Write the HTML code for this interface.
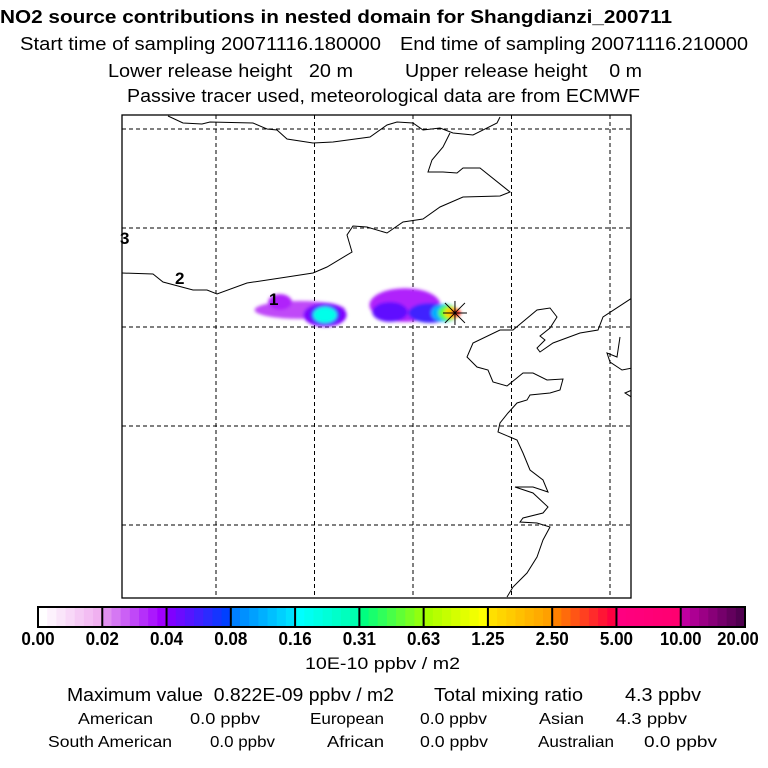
<!DOCTYPE html>
<html><head><meta charset="utf-8"><style>
html,body{margin:0;padding:0;background:#fff}
svg{display:block;font-family:"Liberation Sans",sans-serif}
</style></head><body>
<svg id="chart" width="768" height="768" viewBox="0 0 768 768" xmlns="http://www.w3.org/2000/svg">
<defs>
<filter id="blur" x="-50%" y="-50%" width="200%" height="200%"><feGaussianBlur stdDeviation="1.6"/></filter>
<clipPath id="mapclip"><rect x="122" y="115" width="509" height="483"/></clipPath>
</defs>
<g>
<text x="0" y="23" font-size="18" font-weight="bold" textLength="672" lengthAdjust="spacingAndGlyphs">NO2 source contributions in nested domain for Shangdianzi_200711</text>
<text x="20" y="50" font-size="18" textLength="361" lengthAdjust="spacingAndGlyphs">Start time of sampling 20071116.180000</text>
<text x="400" y="50" font-size="18" textLength="348" lengthAdjust="spacingAndGlyphs">End time of sampling 20071116.210000</text>
<text x="108" y="77" font-size="18" textLength="245" lengthAdjust="spacingAndGlyphs" xml:space="preserve">Lower release height   20 m</text>
<text x="405" y="77" font-size="18" textLength="237" lengthAdjust="spacingAndGlyphs" xml:space="preserve">Upper release height    0 m</text>
<text x="127" y="102" font-size="18" textLength="513" lengthAdjust="spacingAndGlyphs">Passive tracer used, meteorological data are from ECMWF</text>
</g>
<g id="map">
<rect x="122" y="115" width="509" height="483" fill="#fff" stroke="#000" stroke-width="1.3"/>
<g id="grid" clip-path="url(#mapclip)"></g>
<g id="plume" clip-path="url(#mapclip)" filter="url(#blur)"></g>
<g clip-path="url(#mapclip)" fill="none" stroke="#000" stroke-width="1">
<polyline points="168,116 183,123 202,124 210,122 253,123 267,129 277,130 287,139 313,143 333,142 370,137 387,125 397,122 413,123 423,130 440,128 453,133 473,135 497,123 500,117"/>
<polyline points="450,133 443,147 432,160 428,172 443,172 457,173 463,168 480,168 510,192 500,196 463,197 440,207 423,219 403,222 387,233 367,227 353,226 347,235 352,252 327,267 313,273 287,277 247,283 217,294 207,290 193,290 163,282 153,274 122,273"/>
<polyline points="632,298 603,317 598,330 580,333 553,343 540,352 537,348 545,340 540,336 550,328 557,317 550,308 537,310 513,330 500,330 473,343 467,357 477,367 488,370 493,382 507,386 523,373 533,373 547,380 563,379 560,390 550,393 530,395 527,400 517,403 508,413 500,423 498,432 517,440 523,453 530,470 543,480 548,492 533,487 515,487 533,493 548,507 543,513 523,518 520,522 537,523 550,527 543,540 537,557 527,573 513,587 507,597"/>
<polyline points="620,337 617,357 607,353 610,362 622,370 632,368"/>
<polyline points="632,390 625,393 633,398"/>
</g>
<text x="120" y="244" font-size="17" font-weight="bold">3</text>
<text x="175" y="284" font-size="17" font-weight="bold">2</text>
<text x="269" y="305" font-size="17" font-weight="bold">1</text>
<g id="station" stroke="#000" stroke-width="1"></g>
</g>
<g id="colorbar"></g>
<text x="305" y="669" font-size="17" textLength="155" lengthAdjust="spacingAndGlyphs">10E-10 ppbv / m2</text>
<text x="67" y="701" font-size="18" textLength="327" lengthAdjust="spacingAndGlyphs" xml:space="preserve">Maximum value  0.822E-09 ppbv / m2</text>
<text x="434" y="701" font-size="18" textLength="149" lengthAdjust="spacingAndGlyphs">Total mixing ratio</text>
<text x="625" y="701" font-size="18" textLength="76" lengthAdjust="spacingAndGlyphs">4.3 ppbv</text>
<text x="78" y="724" font-size="16" textLength="75" lengthAdjust="spacingAndGlyphs">American</text>
<text x="190" y="724" font-size="16" textLength="70" lengthAdjust="spacingAndGlyphs">0.0 ppbv</text>
<text x="310" y="724" font-size="16" textLength="74" lengthAdjust="spacingAndGlyphs">European</text>
<text x="420" y="724" font-size="16" textLength="67" lengthAdjust="spacingAndGlyphs">0.0 ppbv</text>
<text x="539" y="724" font-size="16" textLength="45" lengthAdjust="spacingAndGlyphs">Asian</text>
<text x="616" y="724" font-size="16" textLength="71" lengthAdjust="spacingAndGlyphs">4.3 ppbv</text>
<text x="48" y="747" font-size="16" textLength="124" lengthAdjust="spacingAndGlyphs">South American</text>
<text x="210" y="747" font-size="16" textLength="65" lengthAdjust="spacingAndGlyphs">0.0 ppbv</text>
<text x="327" y="747" font-size="16" textLength="57" lengthAdjust="spacingAndGlyphs">African</text>
<text x="420" y="747" font-size="16" textLength="68" lengthAdjust="spacingAndGlyphs">0.0 ppbv</text>
<text x="538" y="747" font-size="16" textLength="76" lengthAdjust="spacingAndGlyphs">Australian</text>
<text x="644" y="747" font-size="16" textLength="73" lengthAdjust="spacingAndGlyphs">0.0 ppbv</text>
</svg>
<script>
// ---- data ----
const gridLons = [100, 105, 110, 115, 120];
const gridLats = [45, 40, 35, 30, 25];
const levelLabels = ["0.00","0.02","0.04","0.08","0.16","0.31","0.63","1.25","2.50","5.00","10.00","20.00"];
const levelValues = [0, 0.02, 0.04, 0.08, 0.16, 0.31, 0.63, 1.25, 2.5, 5, 10, 20];
const plumeLon = [104.26, 103.25, 105.53, 105.53, 105.53, 109.59, 108.83, 110.86, 111.62, 111.78, 111.98, 112.18];
const plumeLat = [35.86, 36.26, 35.61, 35.61, 35.61, 36.11, 35.76, 35.71, 35.71, 35.71, 35.71, 35.71];
const plumeVal = [0.03, 0.035, 0.04, 0.06, 0.2, 0.035, 0.05, 0.06, 0.12, 0.5, 1.5, 4];
const plumeSpanLon = [2.3, 0.6, 1.1, 0.8, 0.6, 1.8, 0.9, 1.1, 0.7, 0.5, 0.4, 0.25];
const plumeSpanLat = [0.45, 0.4, 0.6, 0.5, 0.4, 0.85, 0.5, 0.5, 0.45, 0.4, 0.3, 0.2];
const stationLon = 112.13, stationLat = 35.71;
// ---- scales ----
const NS = "http://www.w3.org/2000/svg";
const xLon = lon => 216 + (lon - 100) * 19.7;
const yLat = lat => 129 + (45 - lat) * 19.8;
const degX = 19.7, degY = 19.8;
const segEnds = [["#ffffff","#f0b0f0"],["#e090f0","#a000ff"],["#8000ff","#0040ff"],["#0080ff","#00e0ff"],["#00ffff","#00ffb0"],["#00ff80","#90ff10"],["#a8ff00","#ffff00"],["#ffe000","#ffa000"],["#ff8000","#ff0040"],["#ff0080","#ff0070"],["#c000a0","#500050"]];
function hex(c){return [1,3,5].map(i=>parseInt(c.substr(i,2),16));}
function mix(a,b,t){const A=hex(a),B=hex(b);return "rgb("+A.map((v,i)=>Math.round(v+(B[i]-v)*t)).join(",")+")";}
function colorFor(v){
  for(let i=0;i<levelValues.length-1;i++){
    if(v<levelValues[i+1]){const t=(v-levelValues[i])/(levelValues[i+1]-levelValues[i]);return mix(segEnds[i][0],segEnds[i][1],t);}
  }
  return segEnds[segEnds.length-1][1];
}
function mk(tag,attrs,parent){const e=document.createElementNS(NS,tag);for(const k in attrs)e.setAttribute(k,attrs[k]);parent.appendChild(e);return e;}
// grid
const grid=document.getElementById('grid');
gridLons.forEach(lon=>{
  const l=mk('line',{x1:xLon(lon),x2:xLon(lon),y1:115,y2:598,stroke:'#000','stroke-width':1,'stroke-dasharray':'4,3'},grid);
  
  
});
gridLats.forEach(lat=>{
  const l=mk('line',{x1:122,x2:631,y1:yLat(lat),y2:yLat(lat),stroke:'#000','stroke-width':1,'stroke-dasharray':'4,3'},grid);
  
  
});
// plume
const plume=document.getElementById('plume');


plumeVal.forEach((v,i)=>{
  const e=mk('ellipse',{cx:xLon(plumeLon[i]),cy:yLat(plumeLat[i]),rx:plumeSpanLon[i]*degX,ry:plumeSpanLat[i]*degY,fill:colorFor(v)},plume);
  
  
});
// station
const st=document.getElementById('station');
const sx=xLon(stationLon), sy=yLat(stationLat);
[[-12,0,12,0],[0,-12,0,12],[-10,-10,10,10],[-10,10,10,-10]].forEach(d=>{
  const l=mk('line',{x1:sx+d[0],y1:sy+d[1],x2:sx+d[2],y2:sy+d[3]},st);
  
  
});
// colorbar
const cb=document.getElementById('colorbar');
const cbX0=38, cbX1=745, cbY=607, cbH=20;
const segW=(cbX1-cbX0)/segEnds.length;
segEnds.forEach((s,i)=>{
  for(let k=0;k<7;k++){
    const r=mk('rect',{x:cbX0+i*segW+k*segW/7,y:cbY,width:segW/7+0.6,height:cbH,fill:mix(s[0],s[1],k/6)},cb);
    
    
  }
});
for(let i=0;i<=segEnds.length;i++){
  const l=mk('line',{x1:cbX0+i*segW,x2:cbX0+i*segW,y1:cbY,y2:cbY+cbH,stroke:'#000','stroke-width':2},cb);
  
  
}
const fr=mk('rect',{x:cbX0,y:cbY,width:cbX1-cbX0,height:cbH,fill:'none',stroke:'#000','stroke-width':2},cb);


levelLabels.forEach((lab,i)=>{
  const t=mk('text',{x:Math.min(Math.max(cbX0+i*segW,22),738),y:645,'font-size':18,'font-weight':'bold','text-anchor':'middle'},cb);
  t.textContent=lab;
  t.setAttribute('textLength',lab.length*8.3);
  t.setAttribute('lengthAdjust','spacingAndGlyphs');
  
  
});
</script>
</body></html>
